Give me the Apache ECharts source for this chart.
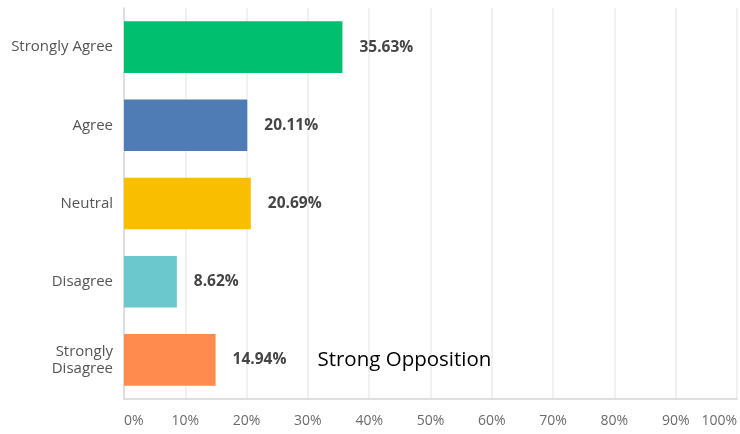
<!DOCTYPE html>
<html>
<head>
<meta charset="utf-8">
<script src="https://cdn.jsdelivr.net/npm/echarts@6/dist/echarts.min.js"></script>
<style>
html,body{margin:0;padding:0;background:#fff;}
#chart{width:740px;height:434px;}
</style>
</head>
<body>
<div id="chart"></div>
<script>
const categories = ["Strongly Agree", "Agree", "Neutral", "Disagree", "Strongly\nDisagree"];
const values = [35.63, 20.11, 20.69, 8.62, 14.94];
const barColors = ["#00BF6F", "#507CB6", "#F9BE00", "#6BC8CD", "#FF8B4F"];
const xTicks = [0, 10, 20, 30, 40, 50, 60, 70, 80, 90, 100];
const annotation = { index: 4, text: "Strong Opposition" };

const chart = echarts.init(document.getElementById('chart'), null, { renderer: 'canvas' });
chart.setOption({
  animation: false,
  backgroundColor: '#ffffff',
  grid: { left: 124, right: -4, top: 8, bottom: 35, containLabel: false },
  xAxis: {
    type: 'value',
    min: xTicks[0],
    max: xTicks[xTicks.length - 1],
    interval: xTicks[1] - xTicks[0],
    axisLine: { show: true, lineStyle: { color: '#d6d6d6', width: 1.5 } },
    axisTick: { show: false },
    splitLine: { show: true, lineStyle: { color: '#ececec', width: 1.5 } },
    axisLabel: {
      formatter: '{value}%',
      color: '#6b6b6b',
      fontFamily: '"Open Sans", sans-serif',
      fontSize: 14,
      margin: 15,
      alignMinLabel: 'left',
      alignMaxLabel: 'right'
    }
  },
  yAxis: {
    type: 'category',
    data: categories,
    inverse: true,
    axisLine: { show: true, lineStyle: { color: '#d6d6d6', width: 1.5 } },
    axisTick: { show: false },
    axisLabel: {
      color: '#555555',
      fontFamily: '"Open Sans", sans-serif',
      fontSize: 15,
      lineHeight: 17,
      margin: 11
    }
  },
  series: [{
    type: 'bar',
    barCategoryGap: '34%',
    data: values.map((v, i) => ({ value: v, itemStyle: { color: barColors[i] } })),
    label: {
      show: true,
      position: 'right',
      distance: 17,
      formatter: function (p) {
        const s = '{v|' + p.value.toFixed(2) + '%}';
        return p.dataIndex === annotation.index ? s + '{a|' + annotation.text + '}' : s;
      },
      rich: {
        v: {
          color: '#454545',
          fontFamily: '"Open Sans", sans-serif',
          fontWeight: 'bold',
          fontSize: 15.5
        },
        a: {
          color: '#000000',
          fontFamily: '"Open Sans", "Noto Sans", sans-serif',
          fontSize: 20.5,
          padding: [0, 0, 0, 31]
        }
      }
    }
  }]
});
</script>
</body>
</html>
